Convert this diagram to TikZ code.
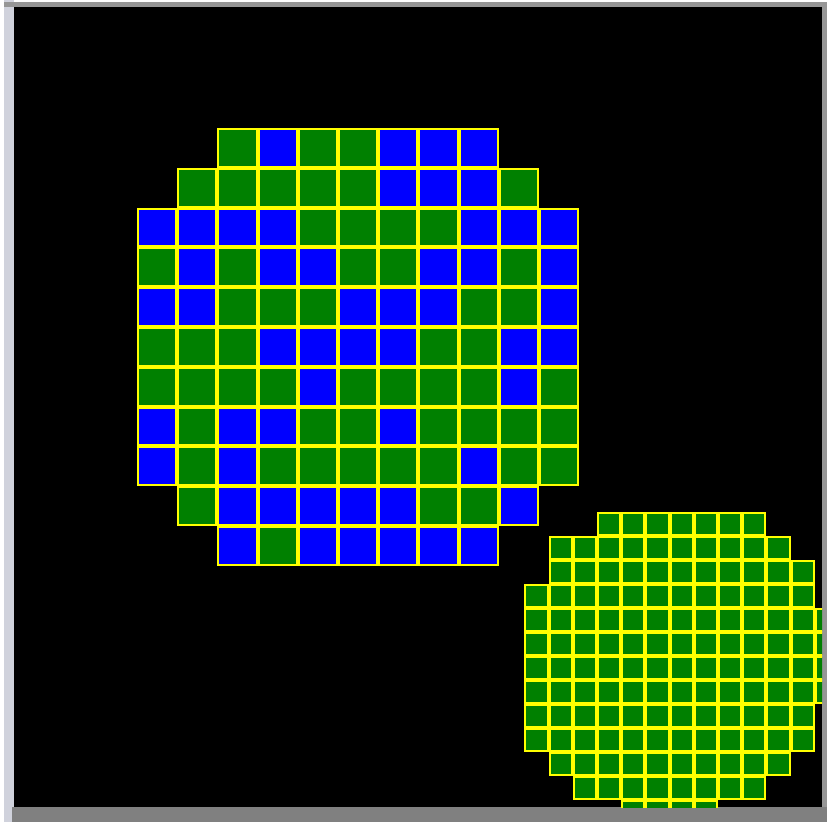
\documentclass[tikz,border=0pt]{standalone}
\usepackage{tikz}
\usepackage{xcolor}
\definecolor{wafergreen}{RGB}{0,128,0}
\definecolor{waferblue}{RGB}{0,0,255}
\definecolor{gridyellow}{RGB}{255,255,0}
\definecolor{framelight}{RGB}{208,210,220}
\definecolor{framegray}{RGB}{150,150,150}
\definecolor{framedark}{RGB}{128,128,128}

\begin{document}
\begin{tikzpicture}[
  x=1pt, y=-1pt,
  die/.style={draw=gridyellow, line width=2pt},
  dieg/.style={die, fill=wafergreen},
  dieb/.style={die, fill=waferblue}
]
\useasboundingbox (0,0) rectangle (827,822);
\fill[white] (0,0) rectangle (827,822);
% window frame
\fill[framelight] (4,0) rectangle (14,822);
\fill[framegray] (4,2) rectangle (827,7);
\fill[framegray] (822,2) rectangle (827,822);
\fill[framedark] (12,807) rectangle (827,822);
\fill[black] (14,7) rectangle (822,807);

% large wafer
\foreach \r/\s/\dies in {
  0/2/{g,b,g,g,b,b,b},
  1/1/{g,g,g,g,g,b,b,b,g},
  2/0/{b,b,b,b,g,g,g,g,b,b,b},
  3/0/{g,b,g,b,b,g,g,b,b,g,b},
  4/0/{b,b,g,g,g,b,b,b,g,g,b},
  5/0/{g,g,g,b,b,b,b,g,g,b,b},
  6/0/{g,g,g,g,b,g,g,g,g,b,g},
  7/0/{b,g,b,b,g,g,b,g,g,g,g},
  8/0/{b,g,b,g,g,g,g,g,b,g,g},
  9/1/{g,b,b,b,b,b,g,g,b},
  10/2/{b,g,b,b,b,b,b}}
  \foreach \d [count=\k from \s] in \dies
    \path[die\d] ({137+40.2*\k+1},{128+39.8*\r+1}) rectangle ++(38.2,37.8);

% small wafer
\begin{scope}
\clip (14,7) rectangle (822,807);
\foreach \r/\s/\e in {0/3/9, 1/1/10, 2/1/11, 3/0/11, 4/0/12, 5/0/12,
    6/0/12, 7/0/12, 8/0/11, 9/0/11, 10/1/10, 11/2/9, 12/4/7}
  \foreach \k in {\s,...,\e}
    \path[dieg] ({524.3+24.2*\k+1},{512.3+24*\r+1}) rectangle ++(22.2,22);
\end{scope}
\end{tikzpicture}
\end{document}
